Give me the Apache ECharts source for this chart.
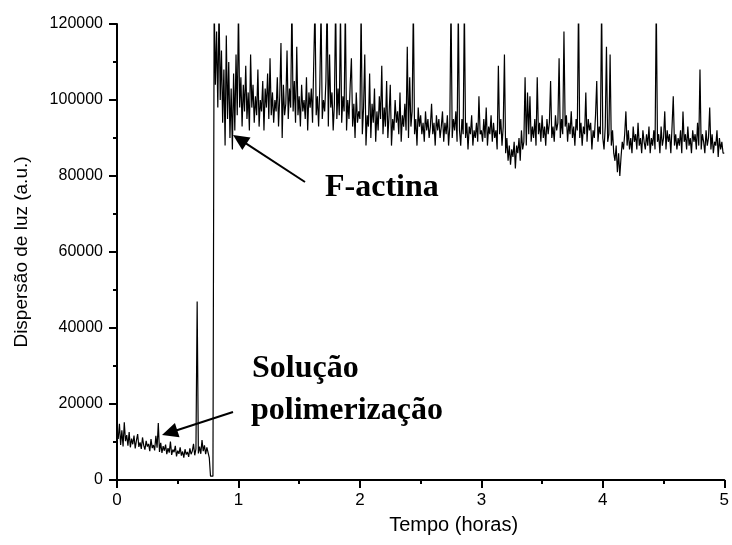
<!DOCTYPE html>
<html>
<head>
<meta charset="utf-8">
<script src="https://cdn.jsdelivr.net/npm/echarts@6/dist/echarts.min.js"></script>
<style>html,body{margin:0;padding:0;background:#fff;}#chart{width:732px;height:545px;}</style>
</head>
<body>
<div id="chart"></div>
<script>
// Sampling interval of the light-scattering record (hours)
const sampleStepHours = 0.01;

// Light scattering (a.u.), one reading every sampleStepHours starting at t = 0
const scattering = [
  // 0.00 - 0.76 h : polymerization solution
  12500, 10800, 14800, 9200, 13100, 8800, 15200, 10200, 11800, 9000,
  12600, 8600, 10900, 9400, 11700, 8300, 10400, 12100, 8700, 9900,
  8200, 11200, 9100, 8000, 10300, 8800, 9500, 7600, 10800, 8400,
  9200, 7800, 11600, 8500, 15000, 7400, 9800, 7100, 8900, 7700,
  9300, 6800, 8400, 7200, 10100, 6600, 8000, 7300, 9000, 6200,
  7700, 6900, 8600, 6400, 7500, 5900, 8100, 6700, 7400, 6100,
  8300, 6800, 7600, 9500, 6500, 8200, 47000, 7000, 8800, 6900,
  10500, 7600, 9100, 6800, 8600, 7200, 5800,
  // 0.77 - 0.79 h : cuvette change
  1000, 1000, 1000,
  // 0.80 - 0.99 h : F-actin
  126000, 104000, 118000, 98000, 125000, 100000, 113000, 94000, 108000, 88000,
  117000, 95000, 110000, 90000, 103000, 87000, 107000, 92000, 112000, 96000,
  // 1.00 - 1.99 h
  124000, 98000, 106000, 93000, 104000, 97000, 109000, 95000, 102000, 92000,
  112000, 98000, 104000, 94000, 101000, 96000, 108000, 93000, 100000, 97000,
  105000, 92000, 103000, 98000, 107000, 95000, 111000, 96000, 102000, 94000,
  100000, 97000, 106000, 93000, 101000, 115000, 90000, 104000, 96000, 99000,
  113000, 95000, 103000, 98000, 126000, 97000, 105000, 94000, 114000, 96000,
  101000, 93000, 104000, 97000, 100000, 95000, 106000, 92000, 102000, 98000,
  103000, 94000, 110000, 125000, 96000, 101000, 93000, 104000, 124000, 95000,
  100000, 97000, 105000, 127000, 93000, 112000, 98000, 102000, 92000, 99000,
  126000, 95000, 103000, 96000, 123000, 94000, 101000, 97000, 125000, 92000,
  100000, 95000, 104000, 111000, 93000, 99000, 90000, 102000, 94000, 97000,
  // 2.00 - 2.99 h
  95000, 124000, 91000, 98000, 112000, 88000, 96000, 93000, 107000, 90000,
  99000, 94000, 103000, 89000, 97000, 92000, 101000, 95000, 109000, 91000,
  98000, 93000, 105000, 90000, 96000, 104000, 88000, 95000, 92000, 100000,
  94000, 97000, 91000, 102000, 89000, 96000, 93000, 99000, 92000, 114000,
  90000, 106000, 93000, 97000, 125000, 91000, 95000, 88000, 98000, 93000,
  96000, 91000, 94000, 89000, 97000, 92000, 95000, 90000, 93000, 99000,
  91000, 94000, 88000, 96000, 92000, 95000, 90000, 93000, 97000, 89000,
  94000, 91000, 96000, 88000, 93000, 126000, 90000, 95000, 92000, 97000,
  89000, 124000, 92000, 88000, 95000, 91000, 125000, 90000, 94000, 87000,
  93000, 91000, 96000, 88000, 92000, 90000, 94000, 89000, 101000, 91000,
  // 3.00 - 3.99 h
  92000, 89000, 95000, 90000, 98000, 88000, 93000, 91000, 96000, 89000,
  94000, 90000, 92000, 87000, 109000, 91000, 95000, 88000, 93000, 112000,
  86000, 90000, 84000, 88000, 83000, 87000, 85000, 89000, 82000, 88000,
  86000, 90000, 84000, 92000, 87000, 89000, 106000, 88000, 102000, 91000,
  101000, 89000, 93000, 90000, 95000, 88000, 106000, 91000, 94000, 89000,
  96000, 90000, 93000, 88000, 95000, 91000, 94000, 105000, 90000, 93000,
  89000, 96000, 92000, 94000, 111000, 90000, 95000, 91000, 118000, 93000,
  96000, 89000, 94000, 91000, 97000, 90000, 93000, 88000, 95000, 92000,
  126000, 90000, 94000, 88000, 93000, 91000, 102000, 89000, 95000, 92000,
  94000, 87000, 92000, 90000, 96000, 105000, 89000, 93000, 91000, 125000,
  // 4.00 - 5.00 h
  90000, 87000, 93000, 114000, 89000, 91000, 112000, 88000, 92000, 86000,
  84000, 88000, 81000, 86000, 80000, 85000, 89000, 87000, 91000, 97000,
  88000, 92000, 87000, 90000, 86000, 93000, 89000, 91000, 87000, 94000,
  88000, 90000, 86000, 92000, 89000, 87000, 91000, 88000, 93000, 86000,
  90000, 88000, 92000, 87000, 126000, 89000, 91000, 86000, 93000, 88000,
  90000, 97000, 87000, 92000, 89000, 91000, 86000, 93000, 101000, 88000,
  91000, 87000, 90000, 88000, 92000, 86000, 97000, 89000, 91000, 87000,
  93000, 88000, 90000, 86000, 92000, 89000, 91000, 87000, 94000, 88000,
  108000, 87000, 91000, 89000, 86000, 92000, 88000, 90000, 98000, 87000,
  91000, 86000, 89000, 88000, 92000, 85000, 90000, 87000, 89000, 86000,
  86000
];

const xTicks = [0, 1, 2, 3, 4, 5];
const yTicks = [0, 20000, 40000, 60000, 80000, 100000, 120000];
const xTitle = 'Tempo (horas)';
const yTitle = 'Dispersão de luz (a.u.)';
const labelFActin = 'F-actina';
const labelSolution = ['Solução', 'polimerização'];

const seriesData = scattering.map((v, i) => [+(i * sampleStepHours).toFixed(2), v]);

function arrow(x1, y1, x2, y2) {
  const dx = x2 - x1, dy = y2 - y1, L = Math.hypot(dx, dy);
  const ux = dx / L, uy = dy / L, nx = -uy, ny = ux;
  const hl = 16, hw = 7.5;
  const bx = x2 - ux * hl, by = y2 - uy * hl;
  return [
    { type: 'line', z: 100, shape: { x1: x1, y1: y1, x2: bx + ux * 2, y2: by + uy * 2 }, style: { stroke: '#000', lineWidth: 2 } },
    { type: 'polygon', z: 100, shape: { points: [[x2, y2], [bx + nx * hw, by + ny * hw], [bx - nx * hw, by - ny * hw]] }, style: { fill: '#000' } }
  ];
}

const serif = '"Liberation Serif", "Times New Roman", serif';
const sans = '"Liberation Sans", Arial, sans-serif';

const chart = echarts.init(document.getElementById('chart'), null, { renderer: 'canvas' });
chart.setOption({
  animation: false,
  backgroundColor: '#fff',
  grid: { left: 117, right: 2, top: 24, bottom: 65, containLabel: false },
  xAxis: {
    type: 'value', min: xTicks[0], max: xTicks[xTicks.length - 1], interval: 1,
    name: xTitle, nameLocation: 'middle', nameGap: 35,
    nameTextStyle: { fontFamily: sans, fontSize: 20, color: '#000', padding: [0, 0, 0, 66] },
    axisLine: { show: true, onZero: false, lineStyle: { color: '#000', width: 2 } },
    axisTick: { show: true, inside: false, length: 8, lineStyle: { color: '#000', width: 2 } },
    minorTick: { show: true, splitNumber: 2, length: 4, lineStyle: { color: '#000', width: 2 } },
    axisLabel: { fontFamily: sans, fontSize: 17, color: '#000', margin: 12, showMaxLabel: true },
    splitLine: { show: false }
  },
  yAxis: {
    type: 'value', min: yTicks[0], max: yTicks[yTicks.length - 1], interval: 20000,
    name: yTitle, nameLocation: 'middle', nameGap: 86, nameRotate: 90,
    nameTextStyle: { fontFamily: sans, fontSize: 19, color: '#000', padding: [0, 0, 0, 0] },
    axisLine: { show: true, onZero: false, lineStyle: { color: '#000', width: 2 } },
    axisTick: { show: true, inside: false, length: 8, lineStyle: { color: '#000', width: 2 } },
    minorTick: { show: true, splitNumber: 2, length: 4, lineStyle: { color: '#000', width: 2 } },
    axisLabel: { fontFamily: sans, fontSize: 16, color: '#000', margin: 14, formatter: v => String(v) },
    splitLine: { show: false }
  },
  series: [{
    type: 'line', data: seriesData, showSymbol: false, symbol: 'none', clip: true,
    lineStyle: { color: '#000', width: 1.2 }, silent: true
  }],
  graphic: [
    ...arrow(305, 182, 233, 135),
    ...arrow(233, 412, 162, 435),
    { type: 'text', z: 100, x: 325, y: 188, style: { text: labelFActin, font: 'bold 32px ' + serif, fill: '#000', verticalAlign: 'middle' } },
    { type: 'text', z: 100, x: 252, y: 369, style: { text: labelSolution[0], font: 'bold 32px ' + serif, fill: '#000', verticalAlign: 'middle' } },
    { type: 'text', z: 100, x: 251, y: 411, style: { text: labelSolution[1], font: 'bold 32px ' + serif, fill: '#000', verticalAlign: 'middle' } }
  ]
});
</script>
</body>
</html>
